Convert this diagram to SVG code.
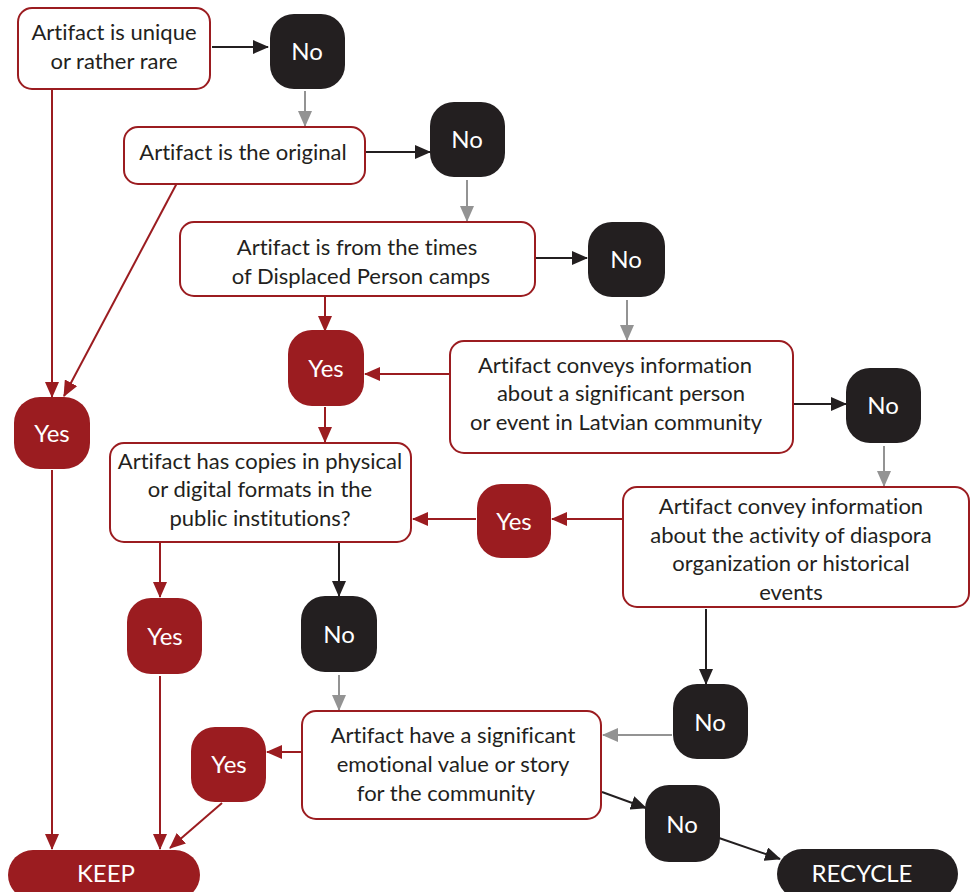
<svg xmlns="http://www.w3.org/2000/svg" width="972" height="892" viewBox="0 0 972 892">
<style>
.box{fill:#fff;stroke:#9b1c20;stroke-width:2}
.yes{fill:#9b1c20}
.no{fill:#231f20}
.t{font-family:"Lato","Liberation Sans",sans-serif;font-size:22px;fill:#231f20;text-anchor:middle;font-variant-ligatures:none}
.w{font-family:"Lato","Liberation Sans",sans-serif;font-size:24px;fill:#fff;text-anchor:middle}
.cr{stroke:#9b1c20;stroke-width:2;fill:none;marker-end:url(#ar)}
.ck{stroke:#231f20;stroke-width:2;fill:none;marker-end:url(#ak)}
.cg{stroke:#939393;stroke-width:2;fill:none;marker-end:url(#ag)}
</style>
<defs>
<marker id="ar" markerUnits="userSpaceOnUse" markerWidth="16" markerHeight="14" refX="15" refY="7" orient="auto"><path d="M0,0 L16,7 L0,14 Z" fill="#9b1c20"/></marker>
<marker id="ak" markerUnits="userSpaceOnUse" markerWidth="16" markerHeight="14" refX="15" refY="7" orient="auto"><path d="M0,0 L16,7 L0,14 Z" fill="#231f20"/></marker>
<marker id="ag" markerUnits="userSpaceOnUse" markerWidth="16" markerHeight="14" refX="15" refY="7" orient="auto"><path d="M0,0 L16,7 L0,14 Z" fill="#939393"/></marker>
</defs>
<g id="connectors">
<line class="ck" x1="212" y1="47" x2="268" y2="47"/>
<line class="cg" x1="305" y1="91" x2="305" y2="126"/>
<line class="ck" x1="366" y1="152" x2="430" y2="152"/>
<line class="cg" x1="467" y1="180" x2="467" y2="221"/>
<line class="ck" x1="536" y1="258" x2="587" y2="258"/>
<line class="cg" x1="627" y1="300" x2="627" y2="340"/>
<line class="cr" x1="449" y1="374" x2="365" y2="374"/>
<line class="cr" x1="325" y1="297" x2="325" y2="331"/>
<line class="cr" x1="325" y1="407" x2="325" y2="442"/>
<line class="ck" x1="794" y1="404" x2="846" y2="404"/>
<line class="cg" x1="884" y1="446" x2="884" y2="486"/>
<line class="cr" x1="622" y1="519" x2="552" y2="519"/>
<line class="cr" x1="476" y1="519" x2="413" y2="519"/>
<line class="cr" x1="52" y1="90" x2="52" y2="397"/>
<line class="cr" x1="177" y1="183" x2="64" y2="396"/>
<line class="cr" x1="52" y1="470" x2="52" y2="849"/>
<line class="cr" x1="160" y1="543" x2="160" y2="597"/>
<line class="cr" x1="160" y1="676" x2="160" y2="849"/>
<line class="ck" x1="339" y1="543" x2="339" y2="596"/>
<line class="cg" x1="339" y1="675" x2="339" y2="710"/>
<line class="ck" x1="706" y1="609" x2="706" y2="684"/>
<line class="cg" x1="672" y1="735" x2="603" y2="735"/>
<line class="cr" x1="301" y1="752" x2="267" y2="752"/>
<line class="cr" x1="222" y1="803" x2="170" y2="848"/>
<line class="ck" x1="602" y1="792" x2="646" y2="808"/>
<line class="ck" x1="719" y1="838" x2="780" y2="859"/>
</g>
<g id="q1"><rect class="box" x="18" y="8" width="192" height="81" rx="14"/><text class="t" x="114" y="40">Artifact is unique</text><text class="t" x="114" y="69">or rather rare</text></g>
<g id="no1"><rect class="no" x="270" y="14" width="75" height="75" rx="24"/><text class="w" x="307" y="60">No</text></g>
<g id="q2"><rect class="box" x="124" y="127" width="241" height="57" rx="14"/><text class="t" x="243" y="160">Artifact is the original</text></g>
<g id="no2"><rect class="no" x="430" y="102" width="75" height="75" rx="24"/><text class="w" x="467" y="148">No</text></g>
<g id="q3"><rect class="box" x="180" y="222" width="355" height="74" rx="14"/><text class="t" x="357" y="255">Artifact is from the times</text><text class="t" x="361" y="284">of Displaced Person camps</text></g>
<g id="no3"><rect class="no" x="588" y="222" width="77" height="75" rx="24"/><text class="w" x="626" y="268">No</text></g>
<g id="q4"><rect class="box" x="450" y="341" width="343" height="112" rx="14"/><text class="t" x="615" y="373">Artifact conveys information</text><text class="t" x="621" y="401">about a significant person</text><text class="t" x="616" y="430">or event in Latvian community</text></g>
<g id="yes1"><rect class="yes" x="288" y="330" width="76" height="76" rx="24"/><text class="w" x="326" y="377">Yes</text></g>
<g id="no4"><rect class="no" x="846" y="368" width="75" height="75" rx="24"/><text class="w" x="883" y="414">No</text></g>
<g id="q5"><rect class="box" x="110" y="443" width="301" height="99" rx="14"/><text class="t" x="260" y="469">Artifact has copies in physical</text><text class="t" x="260" y="497">or digital formats in the</text><text class="t" x="260" y="526">public institutions?</text></g>
<g id="q6"><rect class="box" x="623" y="487" width="346" height="120" rx="14"/><text class="t" x="791" y="514">Artifact convey information</text><text class="t" x="791" y="543">about the activity of diaspora</text><text class="t" x="791" y="571">organization or historical</text><text class="t" x="791" y="600">events</text></g>
<g id="yes2"><rect class="yes" x="477" y="484" width="74" height="74" rx="24"/><text class="w" x="514" y="530">Yes</text></g>
<g id="yes3"><rect class="yes" x="14" y="397" width="76" height="72" rx="26"/><text class="w" x="52" y="442">Yes</text></g>
<g id="yes4"><rect class="yes" x="127" y="598" width="75" height="76" rx="24"/><text class="w" x="165" y="645">Yes</text></g>
<g id="no5"><rect class="no" x="301" y="596" width="76" height="76" rx="24"/><text class="w" x="339" y="643">No</text></g>
<g id="no6"><rect class="no" x="673" y="684" width="75" height="75" rx="24"/><text class="w" x="710" y="731">No</text></g>
<g id="q7"><rect class="box" x="302" y="711" width="299" height="108" rx="14"/><text class="t" x="453" y="743">Artifact have a significant</text><text class="t" x="453" y="772">emotional value or story</text><text class="t" x="446" y="801">for the community</text></g>
<g id="yes5"><rect class="yes" x="191" y="727" width="75" height="75" rx="24"/><text class="w" x="229" y="773">Yes</text></g>
<g id="no7"><rect class="no" x="645" y="785" width="75" height="77" rx="24"/><text class="w" x="682" y="833">No</text></g>
<g id="keep"><rect class="yes" x="8" y="850" width="192" height="50" rx="25"/><text class="w" x="106" y="882">KEEP</text></g>
<g id="recycle"><rect class="no" x="777" y="849" width="181" height="50" rx="25"/><text class="w" x="862" y="882">RECYCLE</text></g>
</svg>
